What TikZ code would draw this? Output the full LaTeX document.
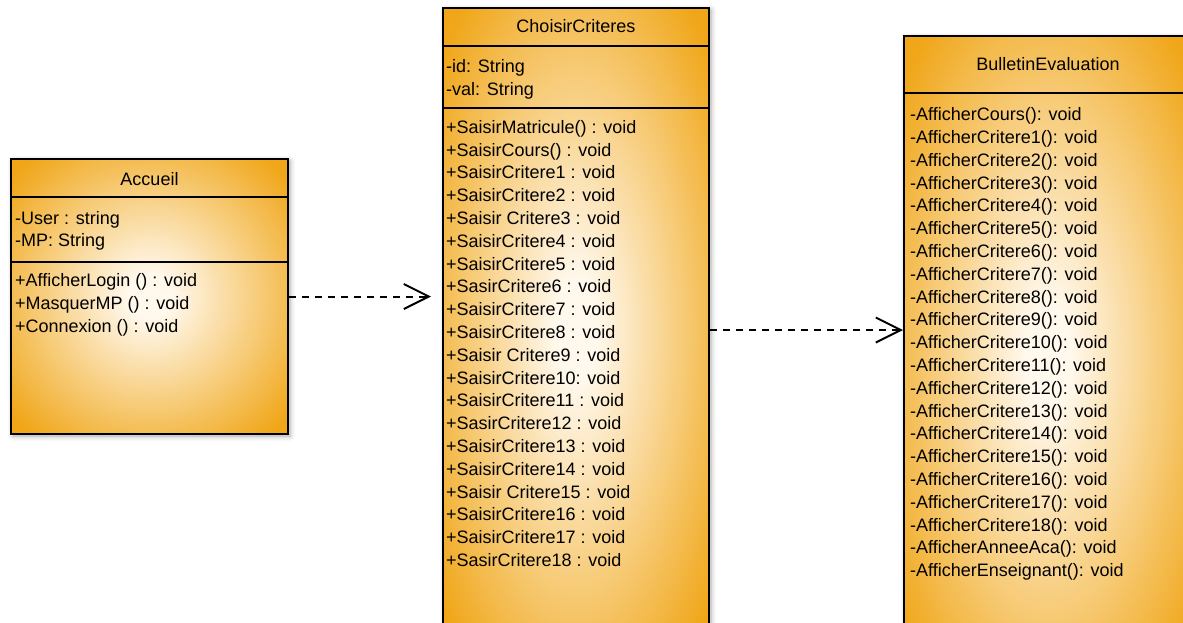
\documentclass[tikz,border=0pt]{standalone}
\usepackage{fontspec}
\setmainfont{Liberation Sans}
\usetikzlibrary{arrows.meta,shadows.blur}
\definecolor{umlorange}{RGB}{240,166,24}
\definecolor{umlcream}{RGB}{255,248,236}
\pgfdeclareradialshading{umlglow}{\pgfpoint{0bp}{0bp}}{%
  color(0bp)=(umlcream); color(4bp)=(umlcream);
  color(33bp)=(umlorange); color(50bp)=(umlorange)}
\tikzset{%
  classbox/.style={draw=black,line width=2pt,inner sep=0pt,anchor=north west,
    shade,shading=umlglow,
    blur shadow={shadow xshift=2pt,shadow yshift=-2pt,
      shadow blur radius=5pt,shadow opacity=35}},
  classname/.style={anchor=base,inner sep=0pt,
    font=\fontsize{18}{22.8}\selectfont},
  member/.style={anchor=base west,inner sep=0pt,
    font=\fontsize{18}{22.8}\selectfont},
  sep/.style={line width=2pt},
  dep/.style={line width=2pt,dash pattern=on 7pt off 6pt,
    -{Straight Barb[length=25pt,width=25pt,line width=2pt]}},
}

\begin{document}
\begin{tikzpicture}[x=1pt,y=-1pt]
  \useasboundingbox (0,0) rectangle (1183,622);
  % class boxes
  \node[classbox,minimum width=277pt,minimum height=275pt] (accueil) at (10,158) {};
  \node[classbox,minimum width=266pt,minimum height=644pt] (choisir) at (442,7) {};
  \node[classbox,minimum width=288pt,minimum height=640pt] (bulletin) at (903,35) {};
  % compartments
  \draw[sep] ([yshift=-39pt]accueil.north west) -- ([yshift=-39pt]accueil.north east);
  \draw[sep] ([yshift=-104pt]accueil.north west) -- ([yshift=-104pt]accueil.north east);
  \draw[sep] ([yshift=-39pt]choisir.north west) -- ([yshift=-39pt]choisir.north east);
  \draw[sep] ([yshift=-101pt]choisir.north west) -- ([yshift=-101pt]choisir.north east);
  \draw[sep] ([yshift=-58pt]bulletin.north west) -- ([yshift=-58pt]bulletin.north east);
  % class names
  \node[classname] (accueil-name) at (accueil.north |- 0,185) {Accueil};
  \node[classname] (choisir-name) at (choisir.north |- 0,32.7) {ChoisirCriteres};
  \node[classname] (bulletin-name) at (bulletin.north |- 0,70.7) {BulletinEvaluation};
  % Accueil
  \foreach \m [count=\i] in {-User : string,-MP: String}
    \node[member] (accueil-attr-\i) at (15,{224+(\i-1)*22.8}) {\m};
  \foreach \m [count=\i] in {+AfficherLogin () : void,+MasquerMP () : void,
      +Connexion () : void}
    \node[member] (accueil-op-\i) at (15,{286.7+(\i-1)*22.8}) {\m};
  % ChoisirCriteres
  \foreach \m [count=\i] in {-id: String,-val: String}
    \node[member] (choisir-attr-\i) at (446,{72.7+(\i-1)*22.8}) {\m};
  \foreach \m [count=\i] in {+SaisirMatricule() : void,+SaisirCours() : void,
      +SaisirCritere1 : void,+SaisirCritere2 : void,+Saisir Critere3 : void,
      +SaisirCritere4 : void,+SaisirCritere5 : void,+SasirCritere6 : void,
      +SaisirCritere7 : void,+SaisirCritere8 : void,+Saisir Critere9 : void,
      +SaisirCritere10: void,+SaisirCritere11 : void,+SasirCritere12 : void,
      +SaisirCritere13 : void,+SaisirCritere14 : void,+Saisir Critere15 : void,
      +SaisirCritere16 : void,+SaisirCritere17 : void,+SasirCritere18 : void}
    \node[member] (choisir-op-\i) at (446,{133.3+(\i-1)*22.8}) {\m};
  % BulletinEvaluation
  \node[member] (bulletin-op-0) at (910,120.7) {-AfficherCours(): void};
  \foreach \k in {1,...,18}
    \node[member] (bulletin-op-\k) at (910,{120.7+\k*22.8}) {-AfficherCritere\k(): void};
  \node[member] (bulletin-op-19) at (910,{120.7+19*22.8}) {-AfficherAnneeAca(): void};
  \node[member] (bulletin-op-20) at (910,{120.7+20*22.8}) {-AfficherEnseignant(): void};
  % dependencies
  \draw[dep,shorten >=11pt] (accueil.east) -- (accueil.east -| choisir.west);
  \draw[dep] (choisir.east) -- (choisir.east -| bulletin.west);
\end{tikzpicture}
\end{document}
